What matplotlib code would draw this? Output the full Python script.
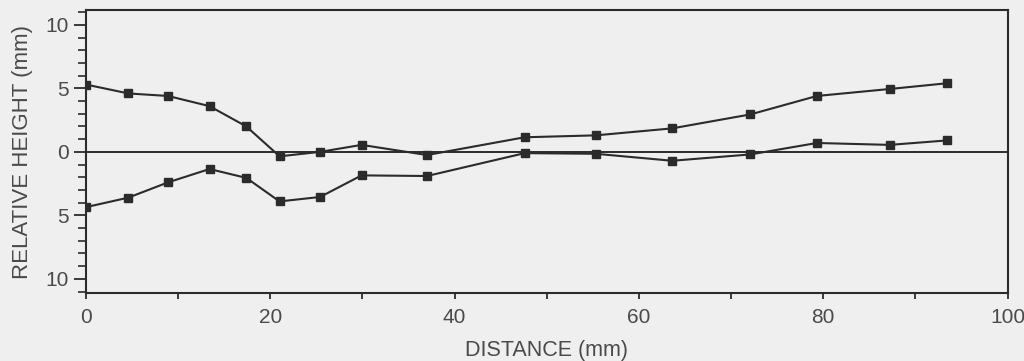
import numpy as np
import matplotlib
matplotlib.use("Agg")
import matplotlib.pyplot as plt
from matplotlib.ticker import MultipleLocator, FuncFormatter

# Measurement stations along the specimen (mm)
distance = [0, 4.6, 8.9, 13.4, 17.4, 21.0, 25.4, 29.9, 37.0,
            47.6, 55.3, 63.6, 72.1, 79.3, 87.2, 93.4]

# Relative surface heights (mm) for the two profiles
upper_profile = [5.3, 4.6, 4.4, 3.6, 2.0, -0.35, 0.0, 0.55, -0.25,
                 1.15, 1.3, 1.85, 2.95, 4.4, 4.95, 5.4]
lower_profile = [-4.35, -3.6, -2.4, -1.35, -2.05, -3.9, -3.55, -1.85, -1.9,
                 -0.1, -0.15, -0.7, -0.2, 0.7, 0.55, 0.9]

BG = "#efefef"
INK = "#2b2b2b"
TXT = "#4a4a4a"

plt.rcParams["font.family"] = ["Liberation Sans", "DejaVu Sans"]

fig = plt.figure(figsize=(10.24, 3.61), dpi=100, facecolor=BG)
ax = fig.add_axes([0.084, 0.188, 0.900, 0.784], facecolor=BG)

ax.axhline(0, color=INK, lw=1.4, zorder=1)

for prof in (upper_profile, lower_profile):
    ax.plot(distance, prof, color=INK, lw=1.5, marker="s", ms=5.5,
            markerfacecolor=INK, markeredgecolor=INK, zorder=2)

ax.set_xlim(0, 100)
ax.set_ylim(-11.12, 11.16)

ax.xaxis.set_major_locator(MultipleLocator(20))
ax.xaxis.set_minor_locator(MultipleLocator(10))
ax.yaxis.set_major_locator(MultipleLocator(5))
ax.yaxis.set_minor_locator(MultipleLocator(1))
ax.yaxis.set_major_formatter(FuncFormatter(lambda v, p: f"{abs(v):g}"))

ax.tick_params(axis="x", which="both", direction="out", length=4, width=1.3,
               color=INK, labelsize=15, labelcolor=TXT, pad=7)
ax.tick_params(axis="y", which="major", direction="out", length=8.5, width=1.3,
               color=INK, labelsize=15, labelcolor=TXT, pad=4)
ax.tick_params(axis="y", which="minor", direction="out", length=5.5, width=1.2,
               color=INK)

for s in ax.spines.values():
    s.set_color(INK)
    s.set_linewidth(1.5)

ax.set_xlabel("DISTANCE (mm)", fontsize=15.5, color=TXT, labelpad=9)
ax.set_ylabel("RELATIVE HEIGHT (mm)", fontsize=16, color=TXT)
ax.yaxis.set_label_coords(-0.058, 0.5)

fig.savefig("out.png", dpi=100, facecolor=BG)
